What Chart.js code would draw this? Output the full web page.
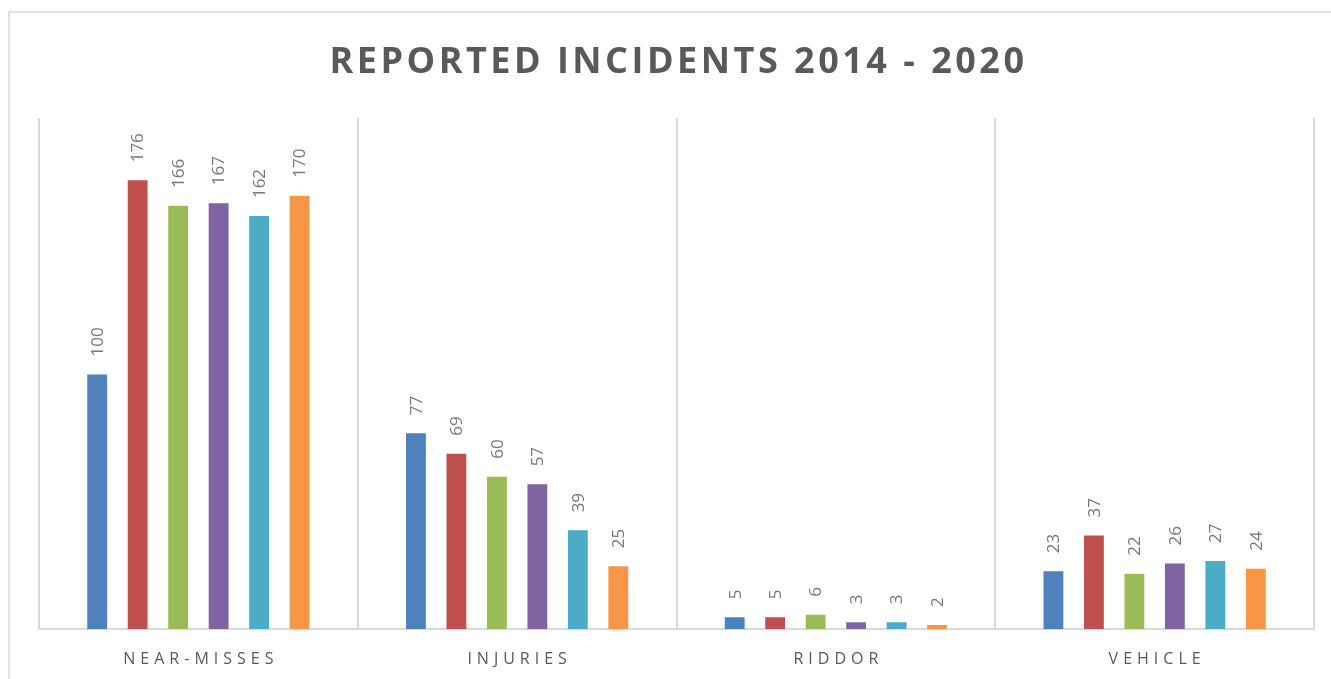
<!DOCTYPE html>
<html>
<head>
<meta charset="utf-8">
<script src="https://cdn.jsdelivr.net/npm/chart.js@4/dist/chart.umd.min.js"></script>
<style>
  html, body { margin: 0; padding: 0; background: #ffffff; }
  #wrap { width: 1331px; height: 679px; }
</style>
</head>
<body>
<div id="wrap"><canvas id="c" width="1331" height="679"></canvas></div>
<script>
const titleText = 'REPORTED INCIDENTS 2014 - 2020';
const categories = ['NEAR-MISSES', 'INJURIES', 'RIDDOR', 'VEHICLE'];
const seriesNames = ['2014/15', '2015/16', '2016/17', '2017/18', '2018/19', '2019/20'];
const series1 = [100, 77, 5, 23];
const series2 = [176, 69, 5, 37];
const series3 = [166, 60, 6, 22];
const series4 = [167, 57, 3, 26];
const series5 = [162, 39, 3, 27];
const series6 = [170, 25, 2, 24];
const seriesValues = [series1, series2, series3, series4, series5, series6];
const seriesColors = ['#4F81BD', '#C0504D', '#9BBB59', '#8064A2', '#4BACC6', '#F79646'];

const decorPlugin = {
  id: 'decor',
  beforeDraw(chart) {
    const ctx = chart.ctx;
    ctx.save();
    ctx.fillStyle = '#ffffff';
    ctx.fillRect(0, 0, chart.width, chart.height);
    ctx.strokeStyle = '#d9d9d9';
    ctx.lineWidth = 1.5;
    ctx.strokeRect(9, 12, chart.width + 10, chart.height + 10);
    ctx.restore();
  },
  afterDraw(chart) {
    const ctx = chart.ctx;
    const area = chart.chartArea;
    ctx.save();
    // Title
    ctx.fillStyle = '#595959';
    ctx.font = 'bold 36px "Open Sans"';
    ctx.letterSpacing = '3.5px';
    ctx.textAlign = 'center';
    ctx.textBaseline = 'alphabetic';
    ctx.fillText(titleText, (area.left + area.right) / 2 + 2, 73);
    // Category labels
    const xs = chart.scales.x;
    ctx.font = '16px "Open Sans"';
    ctx.letterSpacing = '5px';
    categories.forEach((c, i) => {
      const x = xs.getPixelForValue(i);
      ctx.fillText(c, x + 2.5, 664);
    });
    // Data labels (rotated)
    ctx.letterSpacing = '0px';
    ctx.fillStyle = '#787878';
    ctx.font = '17px "Open Sans"';
    chart.data.datasets.forEach((ds, di) => {
      const meta = chart.getDatasetMeta(di);
      meta.data.forEach((bar, i) => {
        ctx.save();
        ctx.translate(bar.x + 1, bar.y - 17);
        ctx.rotate(-Math.PI / 2);
        ctx.textAlign = 'left';
        ctx.textBaseline = 'middle';
        ctx.fillText(String(ds.data[i]), 0, 0);
        ctx.restore();
      });
    });
    ctx.restore();
  }
};

new Chart(document.getElementById('c'), {
  type: 'bar',
  data: {
    labels: categories,
    datasets: seriesValues.map((vals, i) => ({
      label: seriesNames[i],
      data: vals,
      backgroundColor: seriesColors[i],
      borderColor: 'rgba(255,255,255,0.35)',
      borderWidth: 1,
      categoryPercentage: 0.762,
      barPercentage: 0.54
    }))
  },
  options: {
    responsive: false,
    animation: false,
    layout: { padding: { left: 39, right: 17, top: 118, bottom: 50 } },
    plugins: {
      legend: { display: false },
      title: { display: false },
      tooltip: { enabled: false }
    },
    scales: {
      x: {
        offset: true,
        ticks: { display: false },
        grid: { display: true, offset: true, color: '#d9d9d9', lineWidth: 2, drawTicks: false },
        border: { display: true, color: '#d9d9d9', width: 2 }
      },
      y: {
        display: false,
        min: 0,
        max: 200
      }
    }
  },
  plugins: [decorPlugin]
});
</script>
</body>
</html>
